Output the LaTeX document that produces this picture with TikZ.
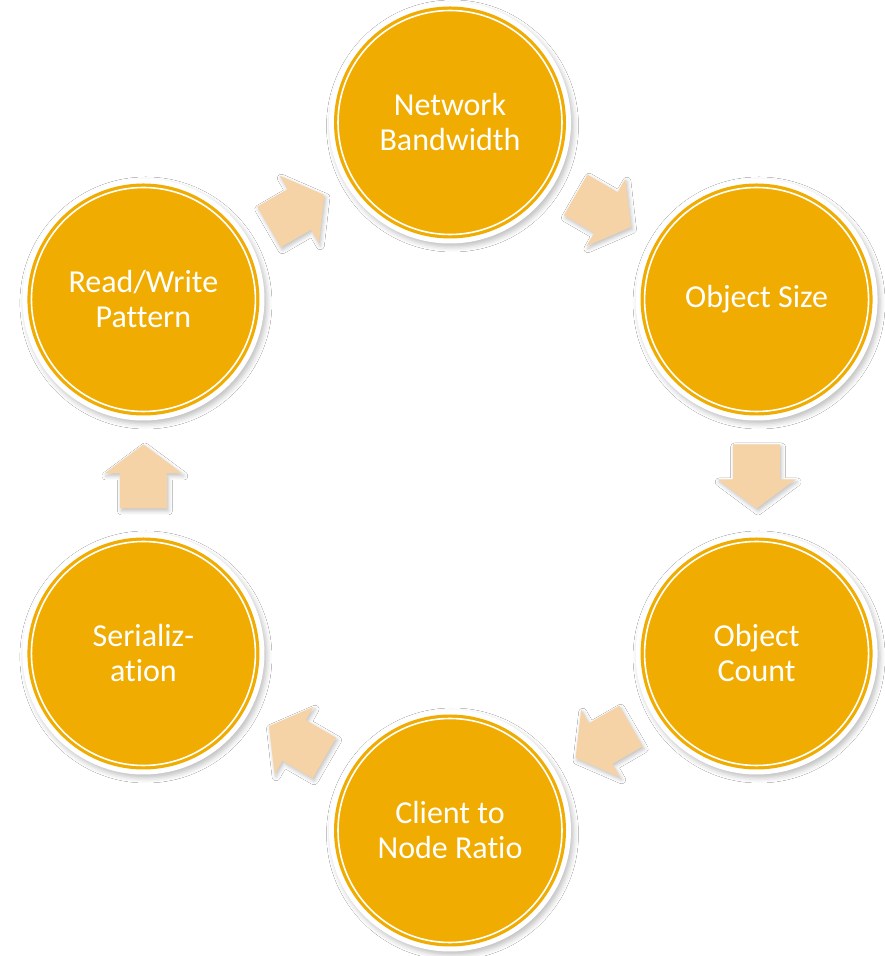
\documentclass[tikz,border=0pt]{standalone}
\usepackage{fontspec}
\setmainfont{Carlito}[Ligatures=NoCommon]
\usetikzlibrary{shadows.blur}
\definecolor{discorange}{RGB}{240,172,0}
\definecolor{arrowtan}{RGB}{245,211,167}
\begin{document}
\begin{tikzpicture}[x=1pt,y=1pt,
  bubble/.style={circle, fill=white, minimum size=242pt, inner sep=0pt,
    blur shadow={shadow xshift=2.5pt, shadow yshift=-3.5pt, shadow blur radius=5pt, shadow opacity=25},
    text=white, align=center, font=\fontsize{32}{35}\selectfont,
    path picture={
      \fill[discorange] (path picture bounding box.center) circle (116pt);
      \draw[white, line width=1.6pt] (path picture bounding box.center) circle (112pt);
    }},
  flowarrow/.style={fill=arrowtan,
    blur shadow={shadow xshift=1.5pt, shadow yshift=-2.5pt, shadow blur radius=4pt, shadow opacity=25}}]
\useasboundingbox (0,0) rectangle (885,956);
\fill[white] (0,0) rectangle (885,956);
\begin{scope}[shift={(450,479.5)}]
  % six factors on a ring
  \node[bubble] (bw)  at (90:354)  {Network\\Bandwidth};
  \node[bubble] (os)  at (30:354)  {Object Size};
  \node[bubble] (oc)  at (-30:354) {Object\\Count};
  \node[bubble] (cn)  at (-90:354) {Client to\\Node Ratio};
  \node[bubble] (ser) at (-150:354) {Serializ-\\ation};
  \node[bubble] (rw)  at (150:354) {Read/Write\\Pattern};
  % clockwise block arrows between neighbours
  \foreach \b/\n in {60/ar1, 0/ar2, -60/ar3, -120/ar4, 180/ar5, 120/ar6} {
    \begin{scope}[shift={(\b:306.6)}, rotate=\b-90]
      \coordinate (\n) at (0,0);
      \fill[flowarrow] (-32,23.5) -- (3,23.5) -- (3,39) -- (32,0) -- (3,-39) -- (3,-23.5) -- (-32,-23.5) -- cycle;
    \end{scope}
  }
\end{scope}
\end{tikzpicture}
\end{document}
